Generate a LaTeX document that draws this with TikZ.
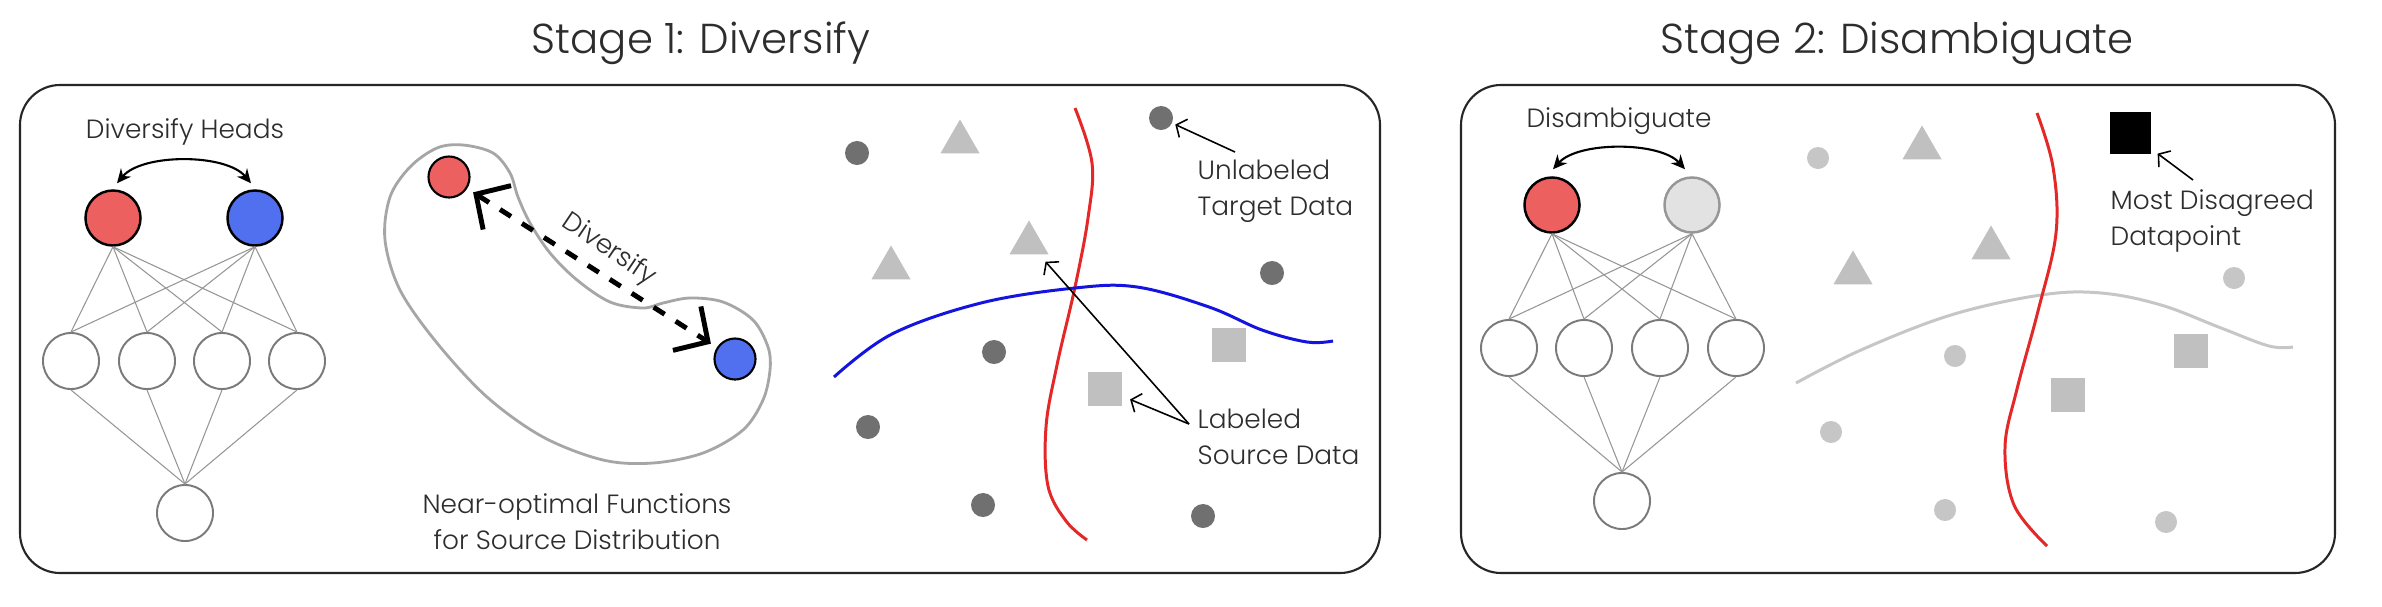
\documentclass[tikz,border=0pt]{standalone}
\usepackage{fontspec}
\setmainfont{Poppins}[UprightFont={* Light},BoldFont={* Regular}]
\usetikzlibrary{shapes.geometric,arrows.meta,calc}
\definecolor{redfill}{RGB}{236,96,96}
\definecolor{bluefill}{RGB}{80,112,240}
\definecolor{redline}{RGB}{228,40,40}
\definecolor{blueline}{RGB}{20,20,225}
\definecolor{darkdot}{RGB}{112,112,112}
\definecolor{lightshape}{RGB}{192,192,192}
\definecolor{lightdot}{RGB}{198,198,198}
\definecolor{txt}{RGB}{45,45,45}
\definecolor{hidline}{RGB}{122,122,122}
\definecolor{connline}{RGB}{150,150,150}
\tikzset{
  panel/.style={draw=black!85,line width=0.6pt,rounded corners=0.4cm},
  title/.style={text=txt,font=\fontsize{11.9}{14}\selectfont,inner sep=0pt},
  lbl/.style={text=txt,font=\fontsize{7.5}{10.3}\selectfont,inner sep=0pt},
  head/.style={circle,draw=black,line width=0.7pt,minimum size=0.55cm,inner sep=0pt},
  hid/.style={circle,draw=hidline,line width=0.55pt,minimum size=0.56cm,inner sep=0pt,fill=white},
  conn/.style={draw=connline,line width=0.3pt},
  dblarrow/.style={line width=0.6pt,{Stealth[length=0.14cm,width=0.13cm]}-{Stealth[length=0.14cm,width=0.13cm]}},
  smallhead/.style={circle,draw=black,line width=0.6pt,minimum size=0.41cm,inner sep=0pt},
  divarrow/.style={line width=1.4pt,dash pattern=on 0.13cm off 0.13cm,
     {Straight Barb[length=0.25cm,width=0.52cm,line width=1.4pt]}-{Straight Barb[length=0.25cm,width=0.52cm,line width=1.4pt]},
     shorten <=0.07cm,shorten >=0.07cm},
  ddot/.style={circle,fill=darkdot,minimum size=0.24cm,inner sep=0pt},
  ldot/.style={circle,fill=lightdot,minimum size=0.22cm,inner sep=0pt},
  tri/.style={regular polygon,regular polygon sides=3,fill=lightshape,minimum size=0.45cm,inner sep=0pt},
  sq/.style={rectangle,fill=lightshape,minimum size=0.34cm,inner sep=0pt},
  annot/.style={line width=0.45pt,-{Straight Barb[length=0.08cm,width=0.2cm]}},
}
\begin{document}
\begin{tikzpicture}[x=0.01cm,y=-0.01cm]
\useasboundingbox[fill=white] (0,0) rectangle (2382,606);

% ---------- titles and panels ----------
\node[title] (t1) at (701,43) {Stage 1: Diversify};
\node[title] (t2) at (1897,43) {Stage 2: Disambiguate};
\draw[panel] (20,85) rectangle (1380,573);
\draw[panel] (1461,85) rectangle (2335,573);

% ---------- stage 1 network ----------
\node[lbl] (dh) at (185,132) {Diversify Heads};
\node[head,fill=redfill] (rh) at (113,218) {};
\node[head,fill=bluefill] (bh) at (255,218) {};
\foreach \i/\x in {1/71,2/147,3/222,4/297} \node[hid] (m\i) at (\x,361) {};
\node[hid] (o) at (185,513) {};
\foreach \i in {1,...,4} {
  \draw[conn] (rh.south) -- (m\i.north);
  \draw[conn] (bh.south) -- (m\i.north);
  \draw[conn] (m\i.south) -- (o.north);
}
\draw[dblarrow] ($(rh.north)+(4,-6)$) .. controls +(25,-30) and +(-25,-30) .. ($(bh.north)+(-4,-6)$);

% ---------- kidney ----------
\draw[draw=black!35,line width=0.8pt] plot[smooth cycle,tension=0.55] coordinates {
 (463,145) (493,153) (510,173) (518,197) (530,223) (550,253) (577,280) (610,302)
 (643,308) (663,303) (690,298) (723,302) (753,320) (768,347) (770,370) (763,400)
 (743,430) (703,453) (653,463) (603,460) (543,437) (487,397) (437,343) (400,290)
 (385,240) (390,197) (410,167) (437,148)};
\node[smallhead,fill=redfill] (kr) at (449,177) {};
\node[smallhead,fill=bluefill] (kb) at (735,359) {};
\draw[divarrow] (kr) -- (kb);
\node[lbl,rotate=-34] (dv) at (609,250) {Diversify};
\node[lbl,align=center] (nof) at (577,522) {Near-optimal Functions\\for Source Distribution};

% ---------- stage 1 data ----------
\draw[redline,line width=0.85pt] plot[smooth,tension=0.6] coordinates {
 (1075,108) (1092,163) (1088,218) (1075,287) (1057,365) (1046,427) (1048,486) (1066,521) (1087,540)};
\draw[blueline,line width=0.85pt] plot[smooth,tension=0.6] coordinates {
 (834,377) (892,334) (981,303) (1075,288) (1137,287) (1209,307) (1262,330) (1307,342) (1333,341)};
\node[ddot] (d1) at (857,153) {};
\node[ddot] (d2) at (1161,118) {};
\node[ddot] (d3) at (1272,273) {};
\node[ddot] (d4) at (994,352) {};
\node[ddot] (d5) at (868,427) {};
\node[ddot] (d6) at (983,505) {};
\node[ddot] (d7) at (1203,516) {};
\node[tri] (a1) at (960,142) {};
\node[tri] (a2) at (1029,243) {};
\node[tri] (a3) at (891,268) {};
\node[sq] (s1) at (1229,345) {};
\node[sq] (s2) at (1105,389) {};
\node[lbl,anchor=west,align=left] (ut) at (1197,191) {Unlabeled\\Target Data};
\node[lbl,anchor=west,align=left] (ls) at (1197,437) {Labeled\\Source Data};
\coordinate (ua) at (1235,152);
\coordinate (la) at (1189,424);
\draw[annot,shorten >=0.03cm] (ua) -- (d2);
\draw[annot,shorten >=0.09cm] (la) -- (a2);
\draw[annot,shorten >=0.08cm] (la) -- (s2);

% ---------- stage 2 network ----------
\node[lbl] (dis) at (1619,121) {Disambiguate};
\node[head,fill=redfill] (rh2) at (1552,205) {};
\node[head,fill={rgb,255:red,226;green,226;blue,226},draw={rgb,255:red,150;green,150;blue,150}] (gh2) at (1692,205) {};
\foreach \i/\x in {1/1509,2/1584,3/1660,4/1736} \node[hid] (n\i) at (\x,348) {};
\node[hid] (o2) at (1622,501) {};
\foreach \i in {1,...,4} {
  \draw[conn] (rh2.south) -- (n\i.north);
  \draw[conn] (gh2.south) -- (n\i.north);
  \draw[conn] (n\i.south) -- (o2.north);
}
\draw[dblarrow] ($(rh2.north)+(1,-7)$) .. controls +(25,-28) and +(-25,-28) .. ($(gh2.north)+(-7,-7)$);

% ---------- stage 2 data ----------
\draw[lightdot,line width=0.85pt] plot[smooth,tension=0.6] coordinates {
 (1796,383) (1861,350) (1951,315) (2041,295) (2101,293) (2161,305) (2221,328) (2269,346) (2293,347)};
\draw[redline,line width=0.85pt] plot[smooth,tension=0.6] coordinates {
 (2037,113) (2053,167) (2056,233) (2038,311) (2017,389) (2005,447) (2014,505) (2047,546)};
\node[ldot] (e1) at (1818,158) {};
\node[ldot] (e2) at (2234,278) {};
\node[ldot] (e3) at (1955,356) {};
\node[ldot] (e4) at (1831,432) {};
\node[ldot] (e5) at (1945,510) {};
\node[ldot] (e6) at (2166,522) {};
\node[tri] (b1) at (1922,148) {};
\node[tri] (b2) at (1991,248) {};
\node[tri] (b3) at (1853,273) {};
\node[sq] (q1) at (2191,351) {};
\node[sq] (q2) at (2068,395) {};
\node[rectangle,fill=black,minimum size=0.41cm,inner sep=0pt] (blk) at (2130,133) {};
\node[lbl,anchor=west,align=left] (md) at (2110,221) {Most Disagreed\\Datapoint};
\coordinate (ma) at (2193,180);
\draw[annot,shorten >=0.08cm] (ma) -- (blk);
\end{tikzpicture}
\end{document}
